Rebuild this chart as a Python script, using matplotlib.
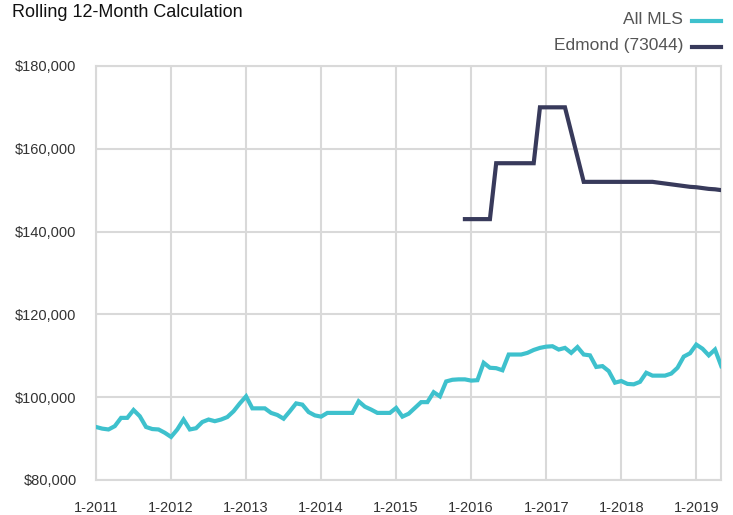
import numpy as np
import matplotlib.pyplot as plt
from matplotlib.lines import Line2D
from matplotlib.ticker import FuncFormatter

plt.rcParams['font.family'] = ['Liberation Sans', 'DejaVu Sans']

# monthly values, 1-2011 .. 5-2019
all_mls = [
    92800, 92400, 92200, 93000, 95000, 95000, 96900, 95400, 92800, 92300, 92200, 91400,
    90400, 92200, 94600, 92200, 92500, 94000, 94600, 94200, 94600, 95200, 96600, 98500,
    100200, 97300, 97300, 97300, 96200, 95700, 94800, 96600, 98500, 98200, 96400, 95600,
    95300, 96200, 96200, 96200, 96200, 96200, 99000, 97700, 97000, 96200, 96200, 96200,
    97400, 95300, 96000, 97400, 98800, 98800, 101200, 100200, 103800, 104200, 104300, 104300,
    104000, 104100, 108300, 107100, 107000, 106500, 110300, 110300, 110300, 110700, 111400, 111900,
    112200, 112300, 111500, 111900, 110700, 112100, 110300, 110100, 107300, 107500, 106300, 103500,
    103900, 103200, 103100, 103700, 105900, 105200, 105200, 105200, 105700, 107100, 109800, 110600,
    112700, 111700, 110100, 111500, 107500,
]

# Edmond (73044) starts 12-2015 (month index 59)
edmond_start = 59
edmond = [
    143000, 143000, 143000, 143000, 143000,
    156500, 156500, 156500, 156500, 156500, 156500, 156500,
    170000, 170000, 170000, 170000, 170000,
    164000, 158000,
    152000, 152000, 152000, 152000, 152000, 152000, 152000, 152000, 152000, 152000, 152000, 152000,
    151800, 151600, 151400, 151200, 151000, 150800, 150700, 150500, 150300, 150200, 150000,
]

year_labels = ['1-2011', '1-2012', '1-2013', '1-2014', '1-2015', '1-2016', '1-2017', '1-2018', '1-2019']

teal = '#3ec1cd'
navy = '#383a5b'
grid = '#d9d9d9'
text_col = '#333333'

months = np.arange(len(all_mls))
edmond_x = np.arange(edmond_start, edmond_start + len(edmond))

fig = plt.figure(figsize=(7.33, 5.15), dpi=100)
ax = fig.add_axes([0.131, 0.068, 0.853, 0.804])

ax.plot(months, all_mls, color=teal, lw=3, solid_joinstyle='miter', zorder=3)
ax.plot(edmond_x, edmond, color=navy, lw=3, solid_joinstyle='miter', zorder=3)

ax.set_xlim(0, len(all_mls) - 1)
ax.set_ylim(80000, 180000)
ax.set_xticks(np.arange(0, 12 * len(year_labels), 12))
ax.set_xticklabels(year_labels)
ax.set_yticks(np.arange(80000, 180001, 20000))
ax.yaxis.set_major_formatter(FuncFormatter(lambda v, p: f'${v:,.0f}'))
ax.tick_params(length=0, labelsize=10.5, colors=text_col)
ax.tick_params(axis='x', pad=15)
ax.tick_params(axis='y', pad=14)
ax.grid(True, color=grid, lw=1.5)
ax.set_axisbelow(True)
for s in ax.spines.values():
    s.set_color(grid)
    s.set_linewidth(1.5)

fig.text(0.016, 0.975, 'Rolling 12-Month Calculation', fontsize=13, color='#111111',
         ha='left', va='center')

# legend drawn by hand, text right-aligned with line swatch
for label, col, y in [('All MLS', teal, 0.963), ('Edmond (73044)', navy, 0.912)]:
    fig.text(0.932, y, label, fontsize=12.5, color='#555555', ha='right', va='center')
    fig.add_artist(Line2D([0.944, 0.983], [y - 0.004, y - 0.004], color=col, lw=3,
                          transform=fig.transFigure))

fig.savefig('out.png', dpi=100)
